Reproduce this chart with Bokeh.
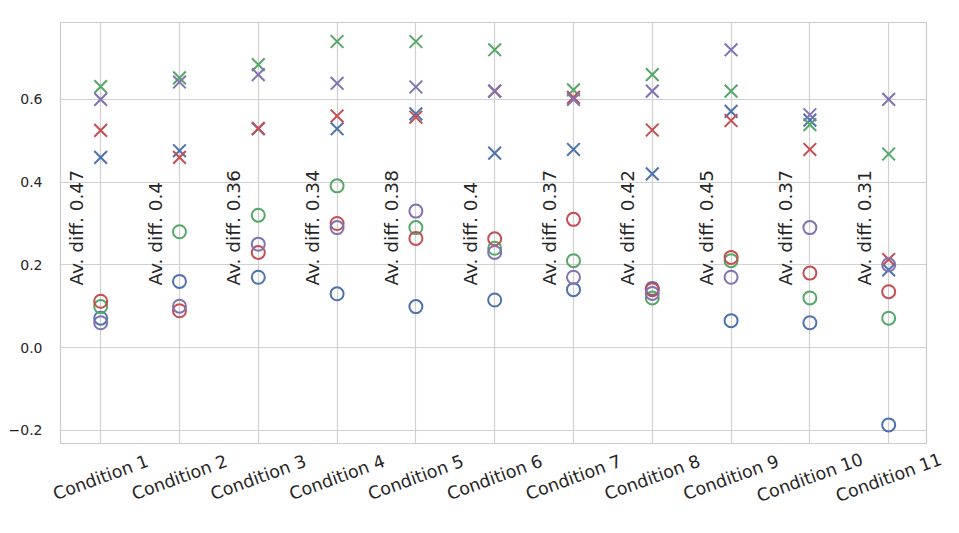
import math
from bokeh.plotting import figure
from bokeh.models import ColumnDataSource, FixedTicker
from bokeh.core.properties import value
from bokeh.embed import file_html
from bokeh.resources import INLINE

conditions = [f"Condition {i}" for i in range(1, 12)]

# "x" markers (upper values) per series
blue_x   = [0.46, 0.476, 0.529, 0.529, 0.565, 0.47, 0.479, 0.42, 0.571, 0.55, 0.188]
green_x  = [0.631, 0.652, 0.684, 0.74, 0.74, 0.72, 0.623, 0.66, 0.62, 0.539, 0.468]
red_x    = [0.525, 0.46, 0.53, 0.56, 0.557, 0.62, 0.605, 0.526, 0.549, 0.479, 0.213]
purple_x = [0.60, 0.642, 0.66, 0.639, 0.63, 0.62, 0.60, 0.62, 0.72, 0.563, 0.60]

# "o" markers (lower values) per series
blue_o   = [0.071, 0.16, 0.17, 0.13, 0.099, 0.115, 0.14, 0.143, 0.065, 0.06, -0.187]
green_o  = [0.099, 0.28, 0.32, 0.391, 0.29, 0.24, 0.21, 0.12, 0.21, 0.12, 0.071]
red_o    = [0.112, 0.089, 0.23, 0.30, 0.264, 0.263, 0.31, 0.14, 0.218, 0.18, 0.135]
purple_o = [0.06, 0.10, 0.25, 0.29, 0.33, 0.23, 0.17, 0.131, 0.17, 0.29, 0.20]

diff_labels = ["Av. diff. 0.47", "Av. diff. 0.4", "Av. diff. 0.36", "Av. diff. 0.34",
               "Av. diff. 0.38", "Av. diff. 0.4", "Av. diff. 0.37", "Av. diff. 0.42",
               "Av. diff. 0.45", "Av. diff. 0.37", "Av. diff. 0.31"]

y_ticks = [-0.2, 0.0, 0.2, 0.4, 0.6]
y_tick_labels = ["\u22120.2", "0.0", "0.2", "0.4", "0.6"]

colors = {"blue": "#4C72B0", "green": "#55A868", "red": "#C44E52", "purple": "#8172B2"}
series = [("blue", blue_x, blue_o), ("green", green_x, green_o),
          ("red", red_x, red_o), ("purple", purple_x, purple_o)]

idx = list(range(len(conditions)))

# layout
W = 943
WQ = 951
BL, BR, BT = 60, 17, 22
FRAME_H = 421
LABEL_H = 81
X0, X1 = -0.51, 10.48
Y0, Y1 = -0.232, 0.786

p = figure(width=W, height=BT + FRAME_H + 1, output_backend="svg", toolbar_location=None,
           x_range=(X0, X1), y_range=(Y0, Y1),
           min_border_left=BL, min_border_top=BT, min_border_right=BR, min_border_bottom=1)
p.background_fill_color = "white"
p.border_fill_color = "white"
p.outline_line_color = "#cccccc"
p.outline_line_width = 1.2

for name, xs, os_ in series:
    c = colors[name]
    p.scatter(idx, xs, marker="x", size=18, line_color=c, line_width=2)
for name, xs, os_ in series:
    c = colors[name]
    p.scatter(idx, os_, marker="circle", size=13, line_color=c, line_width=2, fill_color=None)

src = ColumnDataSource(dict(x=[i - 0.31 for i in idx], y=[0.15] * len(idx), t=diff_labels))
p.text(x="x", y="y", text="t", source=src, angle=math.pi / 2,
       text_align="left", text_baseline="alphabetic",
       text_font=value("DejaVu Sans"), text_font_size="18.5px", text_color="#262626")

p.xaxis.visible = False
p.yaxis.ticker = FixedTicker(ticks=y_ticks)
p.yaxis.major_label_overrides = {t: l for t, l in zip(y_ticks, y_tick_labels)}
p.yaxis.axis_line_color = None
p.yaxis.major_tick_line_color = None
p.yaxis.minor_tick_line_color = None
p.yaxis.major_label_text_font = "DejaVu Sans"
p.yaxis.major_label_text_color = "#262626"
p.yaxis.major_label_text_font_size = "14px"
p.yaxis.major_label_standoff = 12

p.xgrid.ticker = FixedTicker(ticks=idx)
p.ygrid.ticker = FixedTicker(ticks=y_ticks)
for g in (p.xgrid, p.ygrid):
    g.grid_line_color = "#d0d0d0"
    g.grid_line_width = 1.2

# category labels strip: same x scale as the plot above, spanning the full strip width
ppu = (W - BL - BR) / (X1 - X0)
q = figure(width=WQ, height=LABEL_H, output_backend="svg", toolbar_location=None,
           x_range=(X0 - BL / ppu, X1 + (BR + WQ - W) / ppu), y_range=(0, LABEL_H),
           min_border_left=0, min_border_right=0, min_border_top=0, min_border_bottom=0)
q.xaxis.visible = False
q.yaxis.visible = False
q.grid.visible = False
q.outline_line_color = None
q.background_fill_color = "white"
q.border_fill_color = "white"
lab = ColumnDataSource(dict(x=idx, y=[LABEL_H - 33] * len(idx), t=conditions))
q.text(x="x", y="y", text="t", source=lab, angle=20 * math.pi / 180,
       text_align="center", text_baseline="middle",
       text_font=value("DejaVu Sans"), text_font_size="17.5px", text_color="#262626")

open("out.html", "w").write(file_html([p, q], INLINE))
